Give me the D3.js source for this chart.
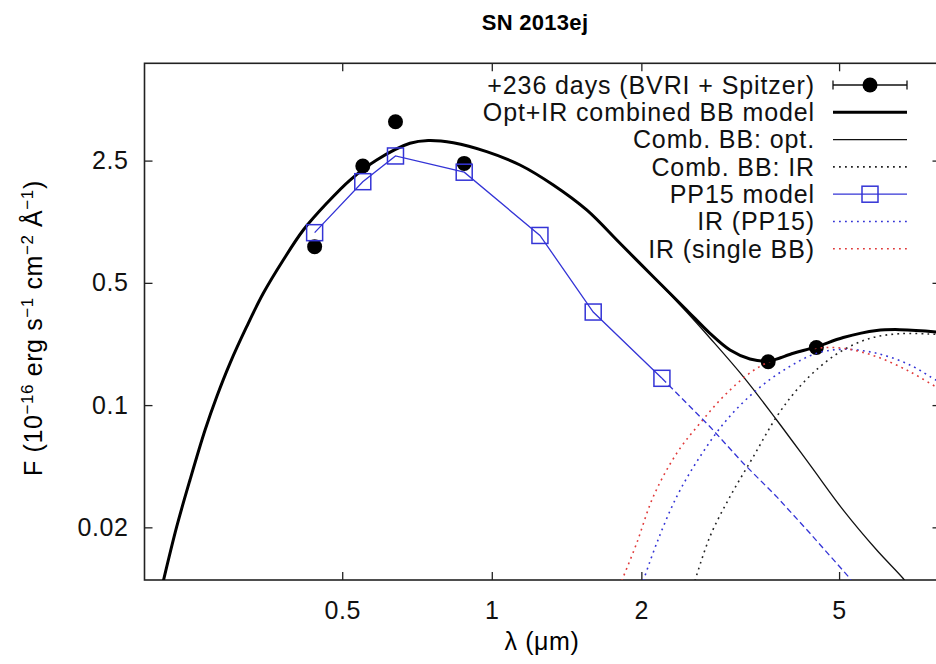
<!DOCTYPE html>
<html>
<head>
<meta charset="utf-8">
<script src="https://cdn.jsdelivr.net/npm/d3@7"></script>
<style>
  html, body { margin: 0; padding: 0; background: #fff; }
  svg { display: block; font-family: "Liberation Sans", Arial, Helvetica, sans-serif; }
</style>
</head>
<body>
<svg id="chart" width="936" height="664"></svg>
<script>
// ---------------- data ----------------
const xTicks = [0.5, 1, 2, 5];
const yTicks = [0.02, 0.1, 0.5, 2.5];

// observed photometry (+236 days, BVRI + Spitzer)
const obsLambda = [0.44, 0.55, 0.64, 0.88, 3.6, 4.5];
const obsFlux   = [0.805, 2.33, 4.17, 2.41, 0.177, 0.2135];

// PP15 model (solid with squares)
const pp15Lambda = [0.44, 0.55, 0.64, 0.88, 1.25, 1.6, 2.2];
const pp15Flux   = [0.968, 1.894, 2.657, 2.146, 0.933, 0.3405, 0.1423];

// PP15 extension beyond K (dashed)
const pp15ExtLambda = [2.2, 2.749, 3.207, 3.744, 4.37, 5.26, 5.3];
const pp15ExtFlux   = [0.1423, 0.0752, 0.0465, 0.02995, 0.0185, 0.0102, 0.0097];

// Opt+IR combined BB model (thick)
const combLambda = [0.2183, 0.2322, 0.2469, 0.2648, 0.2795, 0.2972, 0.3211, 0.3468, 0.3805, 0.4175,
                    0.4653, 0.5185, 0.5866, 0.6843, 0.7452, 0.8366, 0.9766, 1.1397, 1.3298, 1.5523,
                    1.8113, 2.1135, 2.467, 2.748, 3.016, 3.308, 3.601, 4.045, 4.507, 5.098,
                    5.952, 6.63, 7.833, 8.0];
const combFlux   = [0.0099, 0.02017, 0.0373, 0.07206, 0.1117, 0.1734, 0.2808, 0.4357, 0.6755, 1.0025,
                    1.425, 1.936, 2.52, 3.14, 3.26, 3.16, 2.811, 2.36, 1.813, 1.305,
                    0.8417, 0.5421, 0.3497, 0.2573, 0.2065, 0.1835, 0.1787, 0.1978, 0.2158, 0.2434,
                    0.267, 0.27, 0.262, 0.26];

// Comb. BB: opt. (thin)
const optLambda = [0.2183, 0.2322, 0.2469, 0.2648, 0.2795, 0.2972, 0.3211, 0.3468, 0.3805, 0.4175,
                   0.4653, 0.5185, 0.5866, 0.6843, 0.7452, 0.8366, 0.9766, 1.1397, 1.3298, 1.5523,
                   1.8113, 2.1135, 2.467, 2.748, 3.207, 3.744, 4.369, 5.098, 5.952, 6.73, 6.85];
const optFlux   = [0.0099, 0.02017, 0.0373, 0.07206, 0.1117, 0.1734, 0.2808, 0.4357, 0.6755, 1.0025,
                   1.425, 1.936, 2.52, 3.14, 3.26, 3.16, 2.811, 2.36, 1.813, 1.305,
                   0.8417, 0.5421, 0.3405, 0.2419, 0.1454, 0.0822, 0.0455, 0.0251, 0.01484, 0.0102, 0.0095];

// Comb. BB: IR (black dotted)
const combIRLambda = [2.564, 2.748, 3.016, 3.36, 3.744, 4.108, 4.576, 5.098, 5.77, 6.63, 7.833, 8.0];
const combIRFlux   = [0.0099, 0.01769, 0.02995, 0.0507, 0.0858, 0.122, 0.1658, 0.2065, 0.2409, 0.256, 0.254, 0.2535];

// IR (PP15) (blue dotted)
const irPPLambda = [2.018, 2.147, 2.356, 2.624, 2.969, 3.413, 3.922, 4.507, 5.098, 5.952, 6.943, 7.833, 8.0];
const irPPFlux   = [0.0099, 0.01621, 0.02995, 0.0507, 0.0822, 0.122, 0.1623, 0.1978, 0.2085, 0.1978, 0.1696, 0.1392, 0.1356];

// IR (single BB) (red dotted)
const irSBLambda = [1.826, 1.957, 2.1135, 2.356, 2.624, 2.969, 3.413, 3.922, 4.507, 5.098, 5.952, 6.943, 7.833, 8.0];
const irSBFlux   = [0.0099, 0.01621, 0.02995, 0.05302, 0.0787, 0.1168, 0.1623, 0.1934, 0.2113, 0.2113, 0.1891, 0.1552, 0.1274, 0.1244];

const legendLabels = ["+236 days (BVRI + Spitzer)", "Opt+IR combined BB model", "Comb. BB: opt.",
                      "Comb. BB: IR", "PP15 model", "IR (PP15)", "IR (single BB)"];

// ---------------- drawing ----------------
const svg = d3.select("#chart");
const L = 144.5, R = 940.5, T = 63.3, B = 580;
const x = d3.scaleLog().domain([0.2, 8]).range([L, R]);
const y = d3.scaleLog().domain([0.01, 9]).range([B, T]);

const BLUE = "#3434d6", RED = "#e03a3a";
const zip = (a, b) => a.map((v, i) => [v, b[i]]);

svg.append("defs").append("clipPath").attr("id", "plotclip")
  .append("rect").attr("x", L).attr("y", T).attr("width", R - L).attr("height", B - T);

// title
svg.append("text").attr("x", 535).attr("y", 30).attr("text-anchor", "middle")
  .attr("font-size", 22).attr("font-weight", "bold").attr("letter-spacing", 0.3)
  .text("SN 2013ej");

// axes
const fmt = d3.format("");
const axB = svg.append("g").attr("transform", `translate(0,${B})`)
  .call(d3.axisBottom(x).tickValues(xTicks).tickFormat(fmt).tickSize(-8).tickPadding(21));
const axT = svg.append("g").attr("transform", `translate(0,${T})`)
  .call(d3.axisTop(x).tickValues(xTicks).tickFormat("").tickSize(-8));
const axL = svg.append("g").attr("transform", `translate(${L},0)`)
  .call(d3.axisLeft(y).tickValues(yTicks).tickFormat(fmt).tickSize(-8).tickPadding(16));
const axR = svg.append("g").attr("transform", `translate(${R},0)`)
  .call(d3.axisRight(y).tickValues(yTicks).tickFormat("").tickSize(-8));
[axB, axT, axL, axR].forEach(g => {
  g.select(".domain").remove();
  g.selectAll(".tick line").attr("stroke", "#222").attr("stroke-width", 1.3);
  g.selectAll(".tick text").attr("font-size", 25).attr("fill", "#111")
    .attr("font-family", "Liberation Sans, Arial, sans-serif").attr("letter-spacing", 0.6);
});

// frame
svg.append("rect").attr("x", L).attr("y", T).attr("width", R - L).attr("height", B - T)
  .attr("fill", "none").attr("stroke", "#222").attr("stroke-width", 1.6);

// axis labels
svg.append("text").attr("x", 542).attr("y", 650).attr("text-anchor", "middle")
  .attr("font-size", 25).attr("letter-spacing", 0.6).text("λ (μm)");

const yl = svg.append("text").attr("transform", "translate(42,328) rotate(-90)")
  .attr("text-anchor", "middle").attr("font-size", 25).attr("letter-spacing", 0.6);
const ylParts = [["F (10", false], ["−16", true], [" erg s", false], ["−1", true],
                 [" cm", false], ["−2", true], [" Å", false], ["−1", true], [")", false]];
ylParts.forEach(([t, sup]) => {
  yl.append("tspan").attr("font-size", sup ? 17 : 25)
    .attr("baseline-shift", sup ? "55%" : "0%").text(t);
});

const plot = svg.append("g").attr("clip-path", "url(#plotclip)");
const line = d3.line().x(d => x(d[0])).y(d => y(d[1])).curve(d3.curveCatmullRom.alpha(0.5));
const straight = d3.line().x(d => x(d[0])).y(d => y(d[1]));

// observed points
plot.selectAll("circle.obs").data(zip(obsLambda, obsFlux)).join("circle")
  .attr("class", "obs").attr("cx", d => x(d[0])).attr("cy", d => y(d[1])).attr("r", 7.5)
  .attr("fill", "#000");

// models
plot.append("path").attr("d", line(zip(optLambda, optFlux)))
  .attr("fill", "none").attr("stroke", "#111").attr("stroke-width", 1.3);
plot.append("path").attr("d", line(zip(combIRLambda, combIRFlux)))
  .attr("fill", "none").attr("stroke", "#222").attr("stroke-width", 1.6).attr("stroke-dasharray", "1.8,4.2");
plot.append("path").attr("d", line(zip(irPPLambda, irPPFlux)))
  .attr("fill", "none").attr("stroke", BLUE).attr("stroke-width", 1.6).attr("stroke-dasharray", "1.8,4.2");
plot.append("path").attr("d", line(zip(irSBLambda, irSBFlux)))
  .attr("fill", "none").attr("stroke", RED).attr("stroke-width", 1.6).attr("stroke-dasharray", "1.8,4.2");
plot.append("path").attr("d", line(zip(combLambda, combFlux)))
  .attr("fill", "none").attr("stroke", "#000").attr("stroke-width", 3);
plot.append("path").attr("d", straight(zip(pp15ExtLambda, pp15ExtFlux)))
  .attr("fill", "none").attr("stroke", BLUE).attr("stroke-width", 1.3).attr("stroke-dasharray", "6,3.5");
plot.append("path").attr("d", straight(zip(pp15Lambda, pp15Flux)))
  .attr("fill", "none").attr("stroke", BLUE).attr("stroke-width", 1.3);
plot.selectAll("rect.pp").data(zip(pp15Lambda, pp15Flux)).join("rect")
  .attr("class", "pp").attr("x", d => x(d[0]) - 8).attr("y", d => y(d[1]) - 8)
  .attr("width", 16).attr("height", 16).attr("fill", "none").attr("stroke", BLUE).attr("stroke-width", 1.5);

// legend
const lg = svg.append("g");
const rowY = i => 85 + i * 27.3;
const sx0 = 833, sx1 = 907, sxc = 870;
legendLabels.forEach((t, i) => {
  lg.append("text").attr("x", 815).attr("y", rowY(i)).attr("dy", "0.35em")
    .attr("text-anchor", "end").attr("font-size", 25).attr("letter-spacing", 0.9).attr("fill", "#111").text(t);
});
// 0: error bar + dot
lg.append("line").attr("x1", sx0).attr("x2", sx1).attr("y1", rowY(0)).attr("y2", rowY(0)).attr("stroke", "#111").attr("stroke-width", 1.3);
[sx0, sx1].forEach(xx => lg.append("line").attr("x1", xx).attr("x2", xx)
  .attr("y1", rowY(0) - 4.5).attr("y2", rowY(0) + 4.5).attr("stroke", "#111").attr("stroke-width", 1.3));
lg.append("circle").attr("cx", sxc).attr("cy", rowY(0)).attr("r", 7.5).attr("fill", "#000");
// 1: thick
lg.append("line").attr("x1", sx0).attr("x2", sx1).attr("y1", rowY(1)).attr("y2", rowY(1)).attr("stroke", "#000").attr("stroke-width", 3);
// 2: thin
lg.append("line").attr("x1", sx0).attr("x2", sx1).attr("y1", rowY(2)).attr("y2", rowY(2)).attr("stroke", "#111").attr("stroke-width", 1.3);
// 3: black dotted
lg.append("line").attr("x1", sx0).attr("x2", sx1).attr("y1", rowY(3)).attr("y2", rowY(3)).attr("stroke", "#222").attr("stroke-width", 1.6).attr("stroke-dasharray", "1.8,4.2");
// 4: PP15 line + square
lg.append("line").attr("x1", sx0).attr("x2", sx1).attr("y1", rowY(4)).attr("y2", rowY(4)).attr("stroke", BLUE).attr("stroke-width", 1.3);
lg.append("rect").attr("x", sxc - 8).attr("y", rowY(4) - 8).attr("width", 16).attr("height", 16).attr("fill", "none").attr("stroke", BLUE).attr("stroke-width", 1.5);
// 5: blue dotted
lg.append("line").attr("x1", sx0).attr("x2", sx1).attr("y1", rowY(5)).attr("y2", rowY(5)).attr("stroke", BLUE).attr("stroke-width", 1.6).attr("stroke-dasharray", "1.8,4.2");
// 6: red dotted
lg.append("line").attr("x1", sx0).attr("x2", sx1).attr("y1", rowY(6)).attr("y2", rowY(6)).attr("stroke", RED).attr("stroke-width", 1.6).attr("stroke-dasharray", "1.8,4.2");
</script>
</body>
</html>
